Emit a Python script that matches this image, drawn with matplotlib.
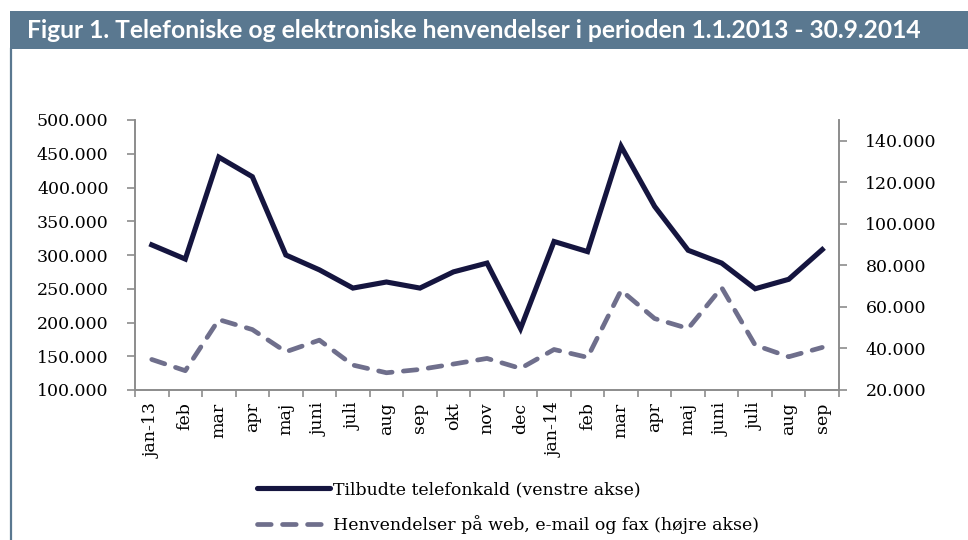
import matplotlib
matplotlib.use("Agg")
import matplotlib.pyplot as plt
from matplotlib.lines import Line2D
from matplotlib.patches import Rectangle
from matplotlib.ticker import FuncFormatter, FixedLocator

months = ["jan-13", "feb", "mar", "apr", "maj", "juni", "juli", "aug", "sep", "okt", "nov", "dec",
          "jan-14", "feb", "mar", "apr", "maj", "juni", "juli", "aug", "sep"]
phone_calls = [315000, 294000, 445000, 416000, 300000, 278000, 251000, 260000, 251000, 275000, 288000,
               191000, 320000, 305000, 461000, 372000, 307000, 288000, 250000, 264000, 308000]
web_mail_fax = [34700, 29300, 53900, 49100, 38400, 44000, 32000, 28300, 29900, 32500, 35200,
                30400, 39500, 35700, 68000, 54400, 49600, 69300, 41600, 36000, 40500]

title = "Figur 1. Telefoniske og elektroniske henvendelser i perioden 1.1.2013 - 30.9.2014"
label_phone = "Tilbudte telefonkald (venstre akse)"
label_web = "Henvendelser på web, e-mail og fax (højre akse)"

W, H = 968, 540
solid_col = "#15153f"
dash_col = "#6f6f8c"
band_col = "#5a7890"
axis_col = "#8c8c8c"
serif = ["DejaVu Serif"]
dash = (0, (2.9, 2.4))

fig = plt.figure(figsize=(W / 100, H / 100), dpi=100)
fig.patch.set_facecolor("white")

# title band and left frame line
fig.patches.append(Rectangle((10 / W, 1 - 49 / H), 1, 38 / H, transform=fig.transFigure,
                             facecolor=band_col, edgecolor="none"))
fig.add_artist(Line2D([11 / W, 11 / W], [0, 1 - 49 / H], transform=fig.transFigure,
                      color=band_col, lw=1.6))
fig.text(27 / W, 1 - 31 / H, title, color="white", fontsize=17.7, fontweight="bold",
         family=["Lato", "DejaVu Sans"], va="center", ha="left")

ax = fig.add_axes([135 / W, 1 - 390 / H, (839 - 135) / W, 270 / H])
ax2 = ax.twinx()

x = list(range(len(months)))
ax.plot(x, phone_calls, color=solid_col, lw=3.7, solid_joinstyle="miter", zorder=3)
ax2.plot(x, web_mail_fax, color=dash_col, lw=3.4, linestyle=dash,
         dash_capstyle="round", zorder=2)

ax.set_xlim(-0.5, len(months) - 0.5)
ax.set_ylim(100000, 500000)
ax2.set_ylim(20000, 150000)
ax.set_yticks(range(100000, 500001, 50000))
ax2.set_yticks(range(20000, 140001, 20000))

fmt = FuncFormatter(lambda v, p: f"{v:,.0f}".replace(",", "."))
ax.yaxis.set_major_formatter(fmt)
ax2.yaxis.set_major_formatter(fmt)

ax.set_xticks(x)
ax.set_xticklabels(months, rotation=90, va="top", ha="center")
ax.xaxis.set_minor_locator(FixedLocator([i - 0.5 for i in range(len(months) + 1)]))
ax.tick_params(axis="x", which="major", length=0, pad=9)
ax.tick_params(axis="x", which="minor", length=5, width=1.2, color=axis_col, direction="out")
ax.tick_params(axis="y", length=6, width=1.2, color=axis_col, pad=13)
ax2.tick_params(axis="y", length=6, width=1.2, color=axis_col, pad=13)

for a in (ax, ax2):
    a.spines["top"].set_visible(False)
    for s in ("left", "right", "bottom"):
        a.spines[s].set_color(axis_col)
        a.spines[s].set_linewidth(1.2)
    for lab in a.get_xticklabels() + a.get_yticklabels():
        lab.set_family(serif)
        lab.set_fontsize(12.5)
        lab.set_color("black")
ax.patch.set_visible(False)

handles = [Line2D([], [], color=solid_col, lw=3.7, solid_capstyle="round"),
           Line2D([], [], color=dash_col, lw=3.4, linestyle=dash, dash_capstyle="round")]
fig.legend(handles, [label_phone, label_web], loc="upper left",
           bbox_to_anchor=(250 / W, 1 - 474 / H), frameon=False,
           prop={"family": serif, "size": 12.5}, handlelength=4.2, handletextpad=0.2,
           labelspacing=0.98, borderaxespad=0)

fig.savefig("out.png", dpi=100, facecolor="white")
